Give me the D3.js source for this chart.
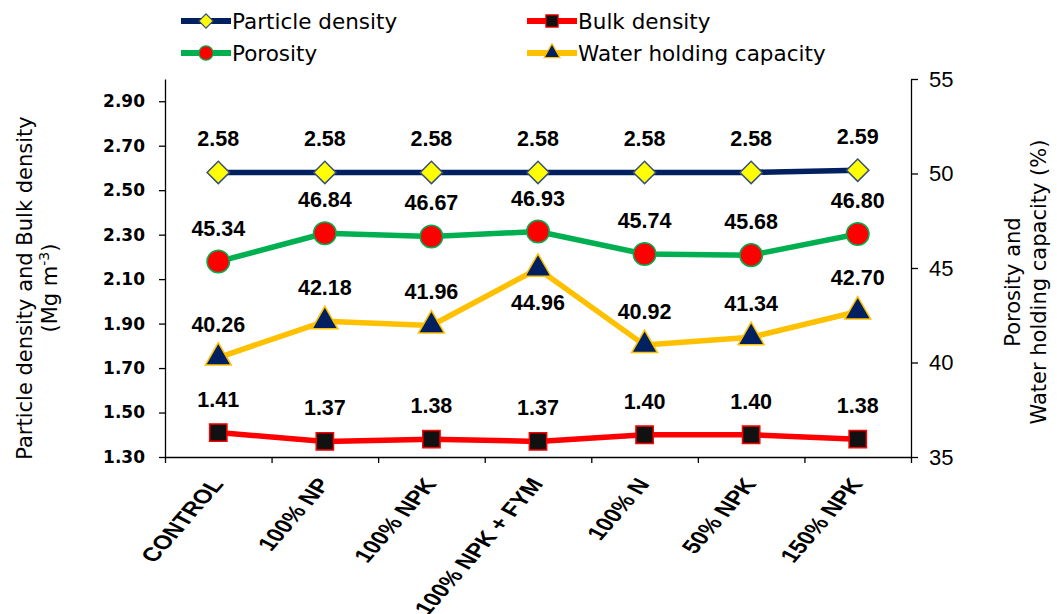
<!DOCTYPE html>
<html>
<head>
<meta charset="utf-8">
<script src="https://cdn.jsdelivr.net/npm/d3@7"></script>
<style>
  body { margin: 0; background: #fff; overflow: hidden; }
  svg { display: block; }
  .tick-left text { font-family: "DejaVu Sans", sans-serif; font-weight: bold; font-size: 17px; fill: #000; }
  .tick-right text { font-family: "Liberation Sans", Arial, sans-serif; font-size: 22px; fill: #000; }
  .axis path, .axis line { stroke: #000; stroke-width: 1.3px; }
  .axis-title { font-family: "DejaVu Sans", sans-serif; font-size: 21px; fill: #000; }
  .legend-text { font-family: "DejaVu Sans", sans-serif; font-size: 21.5px; fill: #000; }
  .value-label { font-family: "Liberation Sans", Arial, sans-serif; font-weight: bold; font-size: 21.5px; fill: #000; }
  .cat-label { font-family: "Liberation Sans", Arial, sans-serif; font-weight: bold; font-size: 19.5px; fill: #000; }
</style>
</head>
<body>
<div id="chart"></div>
<script>
// data
const categories = ['CONTROL', '100% NP', '100% NPK', '100% NPK + FYM', '100% N', '50% NPK', '150% NPK'];
const particleDensity = [2.58, 2.58, 2.58, 2.58, 2.58, 2.58, 2.59];
const bulkDensity = [1.41, 1.37, 1.38, 1.37, 1.40, 1.40, 1.38];
const porosity = [45.34, 46.84, 46.67, 46.93, 45.74, 45.68, 46.80];
const waterHolding = [40.26, 42.18, 41.96, 44.96, 40.92, 41.34, 42.70];

const leftTicks = [1.30, 1.50, 1.70, 1.90, 2.10, 2.30, 2.50, 2.70, 2.90];
const rightTicks = [35, 40, 45, 50, 55];

const width = 1057, height = 614;
const margin = {top: 79, right: 146, bottom: 157, left: 165};
const innerWidth = width - margin.left - margin.right;
const innerHeight = height - margin.top - margin.bottom;

const svg = d3.select('#chart').append('svg')
  .attr('width', width)
  .attr('height', height);

const g = svg.append('g')
  .attr('transform', `translate(${margin.left},${margin.top})`);

const xScale = d3.scaleBand().domain(categories).range([0, innerWidth]).padding(0);
const xEdges = d3.scaleLinear().domain([0, categories.length]).range([0, innerWidth]);
const yLeft = d3.scaleLinear().domain([1.3, 3.0]).range([innerHeight, 0]);
const yRight = d3.scaleLinear().domain([35, 55]).range([innerHeight, 0]);

const cx = d => xScale(d) + xScale.bandwidth() / 2;

// axes
g.append('g')
  .attr('class', 'axis tick-left')
  .call(d3.axisLeft(yLeft).tickValues(leftTicks).tickFormat(d3.format('.2f'))
    .tickSize(6).tickSizeOuter(0).tickPadding(14));

g.append('g')
  .attr('class', 'axis tick-right')
  .attr('transform', `translate(${innerWidth},0)`)
  .call(d3.axisRight(yRight).tickValues(rightTicks).tickFormat(d3.format('d'))
    .tickSize(7).tickSizeOuter(0).tickPadding(11));

g.append('g')
  .attr('class', 'axis')
  .attr('transform', `translate(0,${innerHeight})`)
  .call(d3.axisBottom(xEdges).tickValues(d3.range(categories.length + 1))
    .tickFormat('').tickSize(6).tickSizeOuter(0));

// category labels (slanted, stretched like the source)
g.selectAll('.cat-label')
  .data(categories)
  .enter().append('text')
  .attr('class', 'cat-label')
  .attr('text-anchor', 'end')
  .attr('transform', d => `translate(${cx(d) + 6},${innerHeight + 27}) scale(1.3,1) rotate(-56)`)
  .text(d => d);

// series
const series = [
  {name: 'Particle density', values: particleDensity, y: yLeft, line: '#002060', shape: 'diamond', fill: '#FFFF00', stroke: '#3A4E7A', fmt: '.2f'},
  {name: 'Bulk density', values: bulkDensity, y: yLeft, line: '#FF0000', shape: 'square', fill: '#111111', stroke: '#FF0000', fmt: '.2f'},
  {name: 'Porosity', values: porosity, y: yRight, line: '#00B050', shape: 'circle', fill: '#FF0000', stroke: '#00B050', fmt: '.2f'},
  {name: 'Water holding capacity', values: waterHolding, y: yRight, line: '#FFC000', shape: 'triangle', fill: '#002060', stroke: '#FFC000', fmt: '.2f'}
];
// the one label Excel placed under its point
const labelBelow = {'Water holding capacity': ['100% NPK + FYM']};

const symbolPath = (shape, big) => {
  if (shape === 'diamond') return d3.symbol(d3.symbolSquare, big ? 250 : 100)();
  if (shape === 'square') return d3.symbol(d3.symbolSquare, big ? 300 : 150)();
  if (shape === 'circle') return d3.symbol(d3.symbolCircle, big ? 400 : 160)();
  return d3.symbol(d3.symbolTriangle, big ? 290 : 110)();
};

series.forEach(s => {
  const pts = categories.map((c, i) => ({c, v: s.values[i]}));
  const line = d3.line().x(d => cx(d.c)).y(d => s.y(d.v));

  g.append('path')
    .datum(pts)
    .attr('fill', 'none')
    .attr('stroke', s.line)
    .attr('stroke-width', 5.5)
    .attr('stroke-linejoin', 'round')
    .attr('d', line);

  g.selectAll(null)
    .data(pts)
    .enter().append('path')
    .attr('d', symbolPath(s.shape, true))
    .attr('transform', d => `translate(${cx(d.c)},${s.y(d.v)})` + (s.shape === 'diamond' ? ' rotate(45)' : ''))
    .attr('fill', s.fill)
    .attr('stroke', s.stroke)
    .attr('stroke-width', 1.5);

  const below = labelBelow[s.name] || [];
  g.selectAll(null)
    .data(pts)
    .enter().append('text')
    .attr('class', 'value-label')
    .attr('text-anchor', 'middle')
    .attr('x', d => cx(d.c))
    .attr('y', d => s.y(d.v) + (below.includes(d.c) ? 41 : -26))
    .text(d => d3.format(s.fmt)(d.v));
});

// legend
const legendPos = [
  {x: 181, y: 21}, {x: 527, y: 21}, {x: 181, y: 53}, {x: 527, y: 53}
];
const leg = svg.append('g');
series.forEach((s, i) => {
  const p = legendPos[i];
  const lg = leg.append('g').attr('transform', `translate(${p.x},${p.y})`);
  lg.append('line')
    .attr('x1', 0).attr('x2', 50)
    .attr('stroke', s.line).attr('stroke-width', 6);
  lg.append('path')
    .attr('d', symbolPath(s.shape, false))
    .attr('transform', 'translate(25,0)' + (s.shape === 'diamond' ? ' rotate(45)' : ''))
    .attr('fill', s.fill)
    .attr('stroke', s.stroke)
    .attr('stroke-width', 1.2);
  lg.append('text')
    .attr('class', 'legend-text')
    .attr('x', 51)
    .attr('y', 7.5)
    .text(s.name);
});

// axis titles
const leftTitle = svg.append('text')
  .attr('class', 'axis-title')
  .attr('text-anchor', 'middle')
  .attr('transform', 'translate(32,288) rotate(-90)');
leftTitle.append('tspan').attr('x', 0).attr('y', 0).text('Particle density and Bulk density');
const l2 = leftTitle.append('tspan').attr('x', 0).attr('y', 25);
l2.append('tspan').text('(Mg m');
l2.append('tspan').attr('dy', -8).attr('font-size', 14).text('-3');
l2.append('tspan').attr('dy', 8).text(')');

const rightTitle = svg.append('text')
  .attr('class', 'axis-title')
  .attr('text-anchor', 'middle')
  .attr('transform', 'translate(1020,282) rotate(-90)');
rightTitle.append('tspan').attr('x', 0).attr('y', 0).text('Porosity and');
rightTitle.append('tspan').attr('x', 0).attr('y', 26).text('Water holding capacity (%)');
</script>
</body>
</html>
